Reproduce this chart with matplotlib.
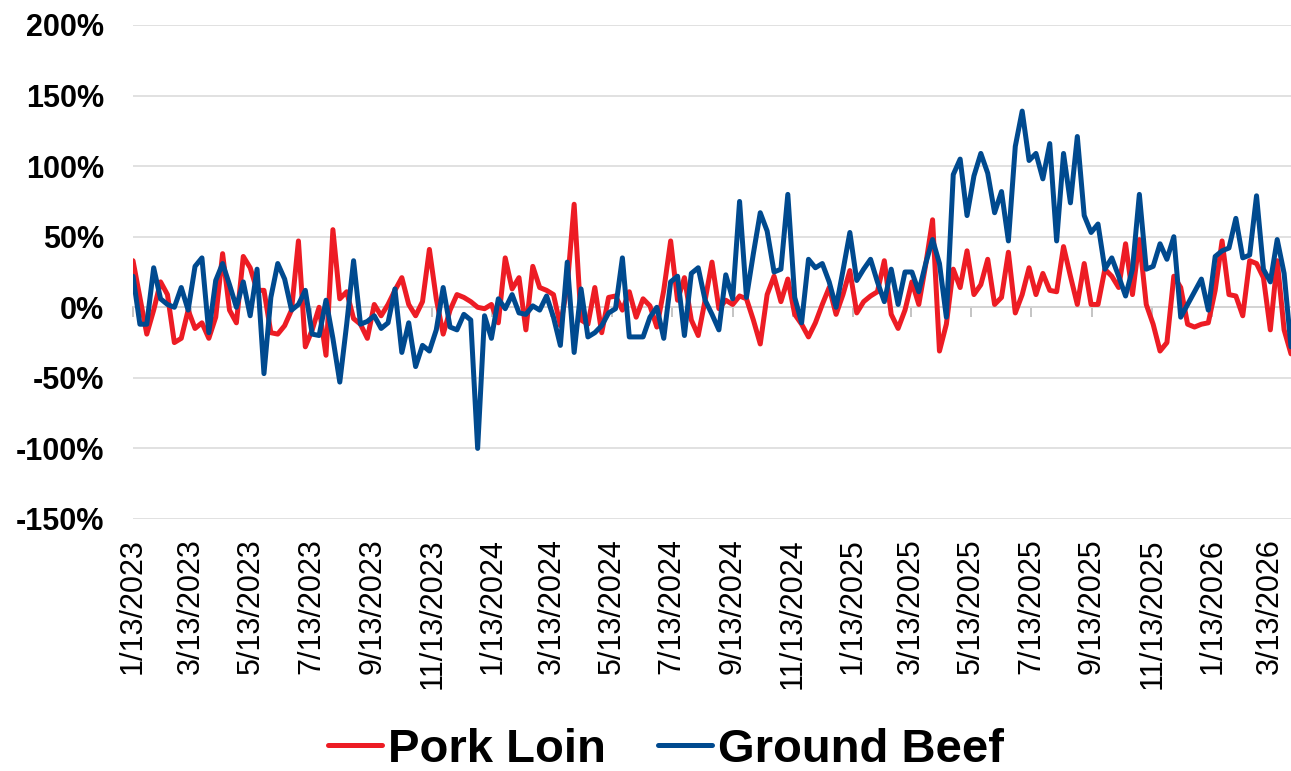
"""Pork loin vs ground beef, weekly % change (line chart, two series)."""

import numpy as np
import pandas as pd
import matplotlib
matplotlib.use("Agg")
import matplotlib.pyplot as plt
import matplotlib.dates as mdates
from matplotlib.ticker import FixedLocator, FuncFormatter

plt.rcParams["font.family"] = ["Liberation Sans", "DejaVu Sans"]

# weekly observations, Fridays from 1/13/2023
START = "2023-01-13"
N_WEEKS = 169

pork_loin = [
    33, 7, -19, -2, 18, 9, -25, -22, -2, -15,
    -11, -22, -7, 38, -2, -11, 36, 28, 12, 12,
    -18, -19, -13, -2, 47, -28, -16, 0, -34, 55,
    6, 11, -8, -12, -22, 2, -6, 2, 12, 21,
    2, -6, 4, 41, 6, -19, -2, 9, 7, 4,
    0, -1, 2, -11, 35, 13, 21, -16, 29, 14,
    12, 9, -13, 15, 73, -9, -12, 14, -18, 7,
    8, -2, 11, -7, 6, 1, -14, 12, 47, 5,
    21, -9, -20, 5, 32, -1, 5, 2, 8, 6,
    -9, -26, 9, 22, 4, 20, -5, -12, -21, -11,
    2, 14, -5, 9, 26, -4, 4, 8, 11, 33,
    -5, -15, -2, 18, 2, 30, 62, -31, -12, 27,
    14, 40, 9, 16, 34, 2, 7, 39, -4, 9,
    28, 9, 24, 12, 11, 43, 22, 2, 31, 2,
    2, 27, 22, 14, 45, 9, 48, 2, -12, -31,
    -25, 22, 14, -12, -14, -12, -11, 12, 47, 9,
    8, -6, 33, 31, 21, -16, 33, -16, -33,
]

ground_beef = [
    22, -12, -12, 28, 6, 2, 0, 14, -2, 29,
    35, -18, 19, 31, 16, 0, 18, -6, 27, -47,
    7, 31, 20, -2, 2, 12, -19, -20, 5, -22,
    -53, -12, 33, -12, -10, -6, -15, -11, 13, -32,
    -11, -42, -27, -31, -16, 14, -14, -16, -5, -9,
    -100, -6, -22, 6, -1, 9, -4, -5, 1, -2,
    8, -7, -27, 32, -32, 13, -21, -18, -13, -4,
    -1, 35, -21, -21, -21, -7, 0, -22, 18, 22,
    -20, 24, 28, 5, -5, -16, 23, 6, 75, 7,
    38, 67, 54, 25, 27, 80, 7, -11, 34, 28,
    31, 18, 0, 26, 53, 19, 27, 34, 18, 4,
    27, 2, 25, 25, 11, 31, 48, 31, -7, 94,
    105, 65, 93, 109, 95, 67, 82, 47, 114, 139,
    104, 109, 91, 116, 47, 109, 74, 121, 65, 53,
    59, 27, 35, 22, 8, 27, 80, 27, 29, 45,
    34, 50, -7, None, None, 20, -2, 36, 40, 42,
    63, 35, 37, 79, 27, 18, 48, 24, -28,
]

series_names = ["Pork Loin", "Ground Beef"]
series_colors = ["#ED1C24", "#004A8F"]
y_ticks = [-150, -100, -50, 0, 50, 100, 150, 200]

RED_GRID = "#d9d9d9"
AXIS_GREY = "#bfbfbf"


def date_label(x, pos=None):
    d = mdates.num2date(x)
    return f"{d.month}/{d.day}/{d.year}"


def main():
    dates = pd.date_range(START, periods=N_WEEKS, freq="7D")
    data = pd.DataFrame({
        "Pork Loin": pd.to_numeric(pd.Series(pork_loin), errors="coerce").values,
        "Ground Beef": pd.to_numeric(pd.Series(ground_beef), errors="coerce").values,
    }, index=dates)

    fig = plt.figure(figsize=(12.91, 7.71), dpi=100)
    ax = fig.add_axes([133 / 1291, 1 - 519 / 771, 1 - 133 / 1291, (519 - 25) / 771])

    # lines: gaps (missing weeks) are bridged, like Excel's "connect data points"
    for name, color in zip(series_names, series_colors):
        s = data[name].dropna()
        ax.plot(s.index, s.values, color=color, lw=3.6, solid_joinstyle="round",
                solid_capstyle="round", label=name, zorder=3)

    ax.set_ylim(-150, 200)
    ax.set_xlim(dates[0], dates[-1])
    ax.yaxis.set_major_locator(FixedLocator(y_ticks))
    ax.yaxis.set_major_formatter(FuncFormatter(lambda v, p: f"{v:.0f}%"))
    ax.yaxis.grid(True, color=RED_GRID, lw=1.1)
    ax.set_axisbelow(True)
    for sp in ax.spines.values():
        sp.set_visible(False)

    locator = mdates.MonthLocator(bymonth=[1, 3, 5, 7, 9, 11], bymonthday=13)
    ax.xaxis.set_major_locator(locator)
    ax.xaxis.set_major_formatter(FuncFormatter(date_label))
    ax.tick_params(axis="x", length=0, pad=14, labelsize=22, labelrotation=90)
    ax.tick_params(axis="y", length=0, pad=21, labelsize=22)
    plt.setp(ax.get_yticklabels(), fontweight="bold")

    # category axis line sits at 0% with its tick marks hanging below
    sec = ax.secondary_xaxis(150 / 350)
    sec.set_zorder(0)
    sec.xaxis.set_major_locator(mdates.MonthLocator(bymonth=[1, 3, 5, 7, 9, 11], bymonthday=13))
    sec.tick_params(axis="x", direction="out", length=7, width=1.3, color=AXIS_GREY,
                    labelbottom=False, labeltop=False)
    sec.spines["bottom"].set_color(AXIS_GREY)
    sec.spines["bottom"].set_linewidth(1.3)

    fig.legend(loc="center", bbox_to_anchor=(666 / 1291, 1 - 750 / 771), ncol=2,
               frameon=False, prop={"weight": "bold", "size": 34},
               handlelength=1.15, handletextpad=0.12, columnspacing=1.1,
               borderaxespad=0)

    fig.savefig("out.png", dpi=100)
    plt.close(fig)


if __name__ == "__main__":
    main()
